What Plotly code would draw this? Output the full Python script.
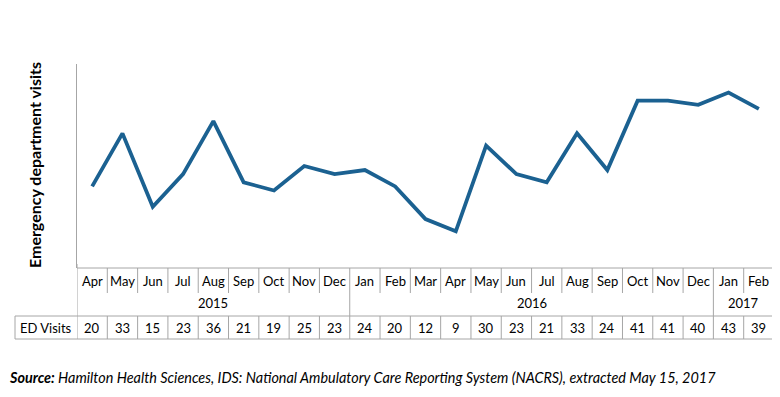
import plotly.graph_objects as go

months = ["Apr","May","Jun","Jul","Aug","Sep","Oct","Nov","Dec","Jan","Feb","Mar",
          "Apr","May","Jun","Jul","Aug","Sep","Oct","Nov","Dec","Jan","Feb"]
years = ["2015"]*9 + ["2016"]*12 + ["2017"]*2
visits = [20,33,15,23,36,21,19,25,23,24,20,12,9,30,23,21,33,24,41,41,40,43,39]
row_label = "ED Visits"
y_title = "Emergency department visits"
source_bold = "Source:"
source_rest = " Hamilton Health Sciences, IDS: National Ambulatory Care Reporting System (NACRS), extracted May 15, 2017"

OFF = 8  # page body margin
W, H = 780 - OFF, 397 - OFF
PL, PR, PT, PB = 77, 774, 64, 268
L, R, T, B = PL - OFF, 780 - PR, PT - OFF, 397 - PB
plot_h = PB - PT
plot_w = PR - PL
n = len(months)
xs = list(range(n))
FONT = "Lato"
GRID = "#A6A6A6"

def py(pix):
    return (PB - pix) / plot_h

def px(pix):
    return (pix - PL) / plot_w

fig = go.Figure()
fig.add_trace(go.Scatter(x=xs, y=visits, mode="lines",
                         line=dict(color="#1B6191", width=3.8), hoverinfo="skip"))

shapes = []
shapes.append(dict(type="line", xref="x", yref="paper", x0=-0.5, x1=-0.5,
                   y0=py(316), y1=py(264), line=dict(color=GRID, width=1)))
shapes.append(dict(type="line", xref="x", yref="paper", x0=-0.5, x1=n-0.5,
                   y0=py(268), y1=py(268), line=dict(color=GRID, width=1)))
for i in range(1, n):
    yb = 293
    if years[i] != years[i-1]:
        yb = 316
    shapes.append(dict(type="line", xref="x", yref="paper", x0=i-0.5, x1=i-0.5,
                       y0=py(yb), y1=py(268), line=dict(color=GRID, width=1)))
shapes.append(dict(type="line", xref="x", yref="paper", x0=n-0.5, x1=n-0.5,
                   y0=py(316), y1=py(268), line=dict(color=GRID, width=1)))
tt, tb = 316, 339
shapes.append(dict(type="rect", xref="paper", yref="paper",
                   x0=px(15), x1=1.0, y0=py(tb), y1=py(tt),
                   line=dict(color=GRID, width=1)))
for i in range(0, n):
    shapes.append(dict(type="line", xref="x", yref="paper", x0=i-0.5, x1=i-0.5,
                       y0=py(tb), y1=py(tt), line=dict(color=GRID, width=1)))

FS = 13
annotations = []
for i, m in enumerate(months):
    annotations.append(dict(x=i, y=py(281), xref="x", yref="paper", text=m,
                            showarrow=False, font=dict(size=FS, color="#000"),
                            xanchor="center", yanchor="middle"))
    annotations.append(dict(x=i, y=py(328), xref="x", yref="paper", text=str(visits[i]),
                            showarrow=False, font=dict(size=FS, color="#000"),
                            xanchor="center", yanchor="middle"))
groups = {}
for i, yv in enumerate(years):
    groups.setdefault(yv, []).append(i)
for yv, idx in groups.items():
    annotations.append(dict(x=(idx[0] + idx[-1]) / 2, y=py(303), xref="x", yref="paper",
                            text=yv, showarrow=False, font=dict(size=FS, color="#000"),
                            xanchor="center", yanchor="middle"))
annotations.append(dict(x=px(46), y=py(328), xref="paper", yref="paper",
                        text=row_label, showarrow=False, font=dict(size=FS, color="#000"),
                        xanchor="center", yanchor="middle"))
annotations.append(dict(x=px(34), y=py(165), xref="paper", yref="paper",
                        text="<b>" + y_title + "</b>", textangle=-90, showarrow=False,
                        font=dict(size=16, color="#000"), xanchor="center", yanchor="middle"))
annotations.append(dict(x=px(7), y=py(377), xref="paper", yref="paper",
                        text="<b><i>" + source_bold + "</i></b><i>" + source_rest + "</i>",
                        showarrow=False, font=dict(size=14.4, color="#000"),
                        xanchor="left", yanchor="middle"))

fig.update_layout(
    width=W, height=H,
    margin=dict(l=L, r=R, t=T, b=B),
    paper_bgcolor="white", plot_bgcolor="white",
    font=dict(family=FONT, color="#000"),
    showlegend=False,
    xaxis=dict(range=[-0.5, n - 0.5], showticklabels=False, showgrid=False,
               zeroline=False, showline=False, fixedrange=True),
    yaxis=dict(range=[0, 50], showticklabels=False, showgrid=False, zeroline=False,
               showline=True, linecolor=GRID, linewidth=1, fixedrange=True),
    shapes=shapes,
    annotations=annotations,
)

fig.write_html("out.html")
